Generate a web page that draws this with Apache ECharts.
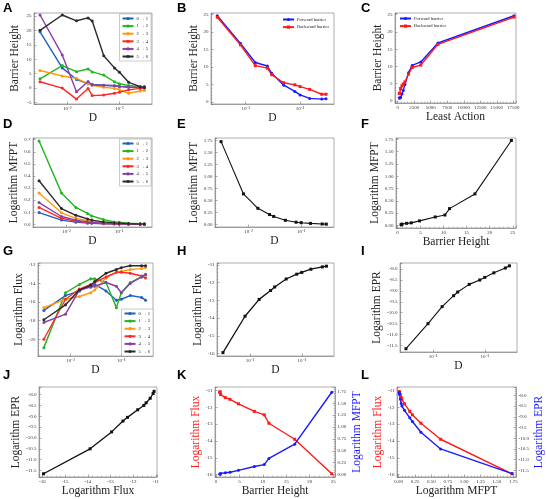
<!DOCTYPE html>
<html>
<head>
<meta charset="utf-8">
<script src="https://cdn.jsdelivr.net/npm/echarts@6/dist/echarts.min.js"></script>
<style>
html, body { margin: 0; padding: 0; background: #fff; }
#main { width: 546px; height: 499px; }
</style>
</head>
<body>
<div id="main"></div>
<script>
// diffusion coefficients (x of the D panels)
var dValues = [0.003, 0.008, 0.015, 0.025, 0.03, 0.05, 0.08, 0.1, 0.15, 0.25, 0.3];
var transitions = ['0 → 1', '1 → 2', '2 → 3', '3 → 4', '4 → 5', '5 → 6'];

// A: barrier height of each transition
var barrierByTransition = [
    [19.5, 7.0, 3.0, 1.5, 1.3, 1.0, 0.8, 0.6, 0.3, 0.2, 0.6],
    [3.2, 7.8, 5.7, 6.6, 5.6, 4.5, 2.2, 1.5, 0.9, 0.5, 0.2],
    [6.1, 4.2, 3.4, 1.5, 1.0, 0.3, -0.1, -0.5, -1.8, -1.0, -0.8],
    [2.2, 0.0, -3.8, -0.1, -2.6, -2.4, -1.8, -1.4, -0.6, -0.1, 0.0],
    [25.3, 11.5, -1.3, 2.3, 1.1, 1.0, 0.8, 0.6, 0.4, 0.3, 0.2],
    [20.0, 25.3, 23.3, 24.3, 23.2, 11.2, 7.0, 5.5, 2.0, 0.5, 0.2]
];
// D: logarithm MFPT of each transition
var mfptByTransition = [
    [0.097, 0.035, 0.018, 0.01, 0.008, 0.005, 0.003, 0.002, 0.001, 0.001, 0.0],
    [0.69, 0.26, 0.14, 0.09, 0.07, 0.04, 0.02, 0.017, 0.01, 0.005, 0.004],
    [0.26, 0.095, 0.05, 0.03, 0.025, 0.012, 0.008, 0.006, 0.004, 0.002, 0.002],
    [0.14, 0.05, 0.027, 0.015, 0.012, 0.007, 0.004, 0.003, 0.002, 0.001, 0.001],
    [0.18, 0.065, 0.035, 0.02, 0.016, 0.01, 0.006, 0.005, 0.003, 0.002, 0.001],
    [0.36, 0.13, 0.075, 0.045, 0.035, 0.02, 0.012, 0.01, 0.006, 0.003, 0.002]
];
// G: logarithm flux of each transition
var fluxByTransition = [
    [-16.9, -15.3, -14.8, -14.2, -14.1, -14.8, -15.8, -15.7, -15.3, -15.5, -15.8],
    [-20.9, -15.0, -14.1, -13.5, -13.5, -13.9, -16.6, -15.0, -13.9, -13.3, -13.1],
    [-16.6, -15.7, -15.4, -15.0, -14.7, -13.4, -12.8, -12.7, -12.5, -12.4, -12.3],
    [-20.0, -15.7, -14.6, -14.1, -13.9, -13.3, -12.8, -12.8, -12.9, -13.2, -13.4],
    [-18.2, -17.3, -14.7, -14.4, -14.3, -13.9, -14.3, -15.0, -14.0, -13.3, -13.0],
    [-17.9, -16.3, -14.7, -14.2, -13.8, -12.9, -12.5, -12.3, -12.1, -12.1, -12.1]
];
var forwardBarrier = [24.7, 16.8, 11.3, 10.3, 8.2, 4.8, 3.0, 2.0, 1.0, 0.8, 0.9];
var backwardBarrier = [24.3, 16.4, 10.4, 9.7, 7.8, 5.5, 4.9, 4.4, 3.6, 2.2, 2.2];
var leastAction = [17600, 6100, 3500, 2200, 1650, 1100, 850, 650, 450, 300, 250];
var totalMfpt = [1.73, 0.64, 0.34, 0.21, 0.17, 0.09, 0.05, 0.04, 0.025, 0.013, 0.01];
var totalFlux = [-15.95, -13.9, -12.95, -12.45, -12.25, -11.8, -11.53, -11.43, -11.25, -11.12, -11.08];
var totalEpr = [-11.65, -10.5, -9.72, -9.22, -9.05, -8.7, -8.5, -8.38, -8.17, -7.95, -7.85];

var panelLetters = ['A', 'B', 'C', 'D', 'E', 'F', 'G', 'H', 'I', 'J', 'K', 'L'];

(function () {
    var myChart = echarts.init(document.getElementById('main'));
    var FONT = 'Liberation Serif';
    var transColors = ['#1f5fc0', '#22b422', '#ff9a10', '#ff2626', '#8a3fa8', '#2a2a2a'];
    var RED = '#ff1a1a', BLUE = '#1a1aff';

    var boxes = [
        [34, 13, 118, 91], [211, 13, 123, 91], [395, 13, 121, 90],
        [33, 138, 119, 89], [215, 138, 119, 89], [396, 138, 120, 90],
        [38, 263, 115, 93], [217, 263, 117, 93], [400, 263, 117, 89],
        [39, 387, 118, 90], [215, 387, 120, 90], [397, 387, 119, 90]
    ];
    var letterPos = [[3, 2], [177, 2], [361, 2], [3, 118], [177, 118], [361, 118],
        [3, 245], [177, 245], [361, 245], [3, 369], [177, 369], [361, 369]];

    function pairs(xs, ys) {
        return xs.map(function (x, i) { return [x, ys[i]]; });
    }
    var sup = { '-': '⁻', '0': '⁰', '1': '¹', '2': '²', '3': '³' };
    function powerLabel(v) {
        var l = Math.log10(v), e = Math.round(l);
        if (Math.abs(l - e) > 1e-6) return '';
        return '10' + String(e).split('').map(function (c) { return sup[c] || c; }).join('');
    }
    function nameStyle(color) {
        return { fontSize: 11.5, fontFamily: FONT, color: color || '#222' };
    }
    function common(gi, name, gap, color) {
        return {
            gridIndex: gi,
            name: name,
            nameLocation: 'middle',
            nameGap: gap,
            nameTextStyle: nameStyle(color),
            axisLine: { show: true, onZero: false, lineStyle: { color: '#777', width: 0.6 } },
            axisTick: { inside: true, length: 2.5, lineStyle: { color: '#777', width: 0.6 } },
            splitLine: { show: false },
            axisLabel: { fontSize: 5, fontFamily: FONT, color: '#333', margin: 2.5,
                showMinLabel: false, showMaxLabel: false }
        };
    }
    function logAxis(gi) {
        var a = common(gi, 'D', 5);
        a.type = 'log';
        a.logBase = 10;
        a.min = 0.0023;
        a.max = 0.42;
        a.axisLabel.formatter = powerLabel;
        return a;
    }
    function valAxis(gi, min, max, step, digits, name, gap, color, pos) {
        var a = common(gi, name, gap, color);
        a.type = 'value';
        a.min = min;
        a.max = max;
        a.minInterval = step;
        a.maxInterval = step;
        a.scale = true;
        a.axisLabel.formatter = function (v) { return v.toFixed(digits); };
        a.minorTick = { show: true, splitNumber: 5, length: 1.3, lineStyle: { color: '#888', width: 0.5 } };
        if (pos) a.position = pos;
        return a;
    }

    var xAxis = [
        logAxis(0), logAxis(1),
        valAxis(2, -400, 17900, 2500, 0, 'Least Action', 5),
        logAxis(3), logAxis(4),
        valAxis(5, -0.3, 25.7, 5, 0, 'Barrier Height', 6),
        logAxis(6), logAxis(7), logAxis(8),
        valAxis(9, -16.15, -10.95, 1, 0, 'Logarithm Flux', 5),
        valAxis(10, -0.2, 25.4, 5, 0, 'Barrier Height', 5),
        valAxis(11, -0.025, 1.79, 0.25, 2, 'Logarithm MFPT', 5)
    ];
    var yAxis = [
        valAxis(0, -5.5, 26, 5, 0, 'Barrier Height', 13),
        valAxis(1, -0.6, 25.5, 5, 0, 'Barrier Height', 7),
        valAxis(2, -0.6, 25.5, 5, 0, 'Barrier Height', 10),
        valAxis(3, -0.022, 0.714, 0.1, 1, 'Logarithm MFPT', 9),
        valAxis(4, -0.05, 1.806, 0.25, 2, 'Logarithm MFPT', 9),
        valAxis(5, -0.055, 1.78, 0.25, 2, 'Logarithm MFPT', 11),
        valAxis(6, -21.8, -11.8, 2, 0, 'Logarithm Flux', 12),
        valAxis(7, -16.14, -10.9, 1, 0, 'Logarithm Flux', 11),
        valAxis(8, -11.8, -7.72, 0.5, 1, 'Logarithm EPR', 13),
        valAxis(9, -11.8, -7.65, 0.5, 1, 'Logarithm EPR', 14),
        valAxis(10, -16.14, -10.8, 1, 0, 'Logarithm Flux', 11, RED),
        valAxis(11, -16.14, -10.8, 1, 0, 'Logarithm Flux', 10, RED),
        valAxis(10, -0.05, 1.84, 0.25, 2, 'Logarithm MFPT', 16, BLUE, 'right'),
        valAxis(11, -11.81, -7.61, 0.5, 1, 'Logarithm EPR', 16, BLUE, 'right')
    ];
    yAxis[12].nameRotate = 90;
    yAxis[13].nameRotate = 90;

    var grid = boxes.map(function (b) {
        return { left: b[0], top: b[1], width: b[2], height: b[3], show: true,
            borderColor: '#777', borderWidth: 0.6, backgroundColor: '#fff' };
    });

    var title = panelLetters.map(function (t, i) {
        return { text: t, left: letterPos[i][0], top: letterPos[i][1], padding: 0,
            textStyle: { fontSize: 13, fontWeight: 'bold', fontFamily: 'Liberation Sans', color: '#000' } };
    });

    function line(name, gi, yi, data, color, symbol, width) {
        return {
            name: name, type: 'line', xAxisIndex: gi, yAxisIndex: yi, data: data,
            symbol: symbol || 'circle', symbolSize: 3, showSymbol: true,
            lineStyle: { color: color, width: width || 1.4 },
            itemStyle: { color: color },
            emphasis: { disabled: true }
        };
    }

    var series = [];
    transitions.forEach(function (t, i) {
        series.push(line(t, 0, 0, pairs(dValues, barrierByTransition[i]), transColors[i]));
        series.push(line(t, 3, 3, pairs(dValues, mfptByTransition[i]), transColors[i]));
        series.push(line(t, 6, 6, pairs(dValues, fluxByTransition[i]), transColors[i]));
    });
    series.push(line('Forward barrier', 1, 1, pairs(dValues, forwardBarrier), BLUE, 'circle'));
    series.push(line('Backward barrier', 1, 1, pairs(dValues, backwardBarrier), RED, 'rect'));
    series.push(line('Forward barrier', 2, 2, pairs(leastAction, forwardBarrier), BLUE, 'circle'));
    series.push(line('Backward barrier', 2, 2, pairs(leastAction, backwardBarrier), RED, 'rect'));
    series.push(line('MFPT', 4, 4, pairs(dValues, totalMfpt), '#111', 'rect', 1.1));
    series.push(line('MFPT vs barrier', 5, 5, pairs(forwardBarrier, totalMfpt), '#111', 'rect', 1.1));
    series.push(line('Flux', 7, 7, pairs(dValues, totalFlux), '#111', 'rect', 1.3));
    series.push(line('EPR', 8, 8, pairs(dValues, totalEpr), '#111', 'rect', 1.1));
    series.push(line('EPR vs flux', 9, 9, pairs(totalFlux, totalEpr), '#111', 'rect', 1.3));
    series.push(line('K flux', 10, 10, pairs(forwardBarrier, totalFlux), RED, 'rect'));
    series.push(line('K mfpt', 10, 12, pairs(forwardBarrier, totalMfpt), BLUE, 'circle'));
    series.push(line('L flux', 11, 11, pairs(totalMfpt, totalFlux), RED, 'rect'));
    series.push(line('L epr', 11, 13, pairs(totalMfpt, totalEpr), BLUE, 'circle'));

    function legendBox(data, pos) {
        var l = {
            data: data, orient: 'vertical', itemWidth: 11, itemHeight: 4, itemGap: 2.6,
            padding: [2, 3, 2, 2], borderColor: '#999', borderWidth: 0.5, backgroundColor: '#fff',
            textStyle: { fontSize: 4.6, fontFamily: FONT, color: '#222', padding: [0, 0, 0, -2] },
            selectedMode: false
        };
        for (var k in pos) l[k] = pos[k];
        return l;
    }
    var legend = [
        legendBox(transitions, { right: 395, top: 14 }),
        legendBox(transitions, { right: 395, top: 139 }),
        legendBox(transitions, { right: 393, top: 309 }),
        legendBox(['Forward barrier', 'Backward barrier'], { right: 214, top: 15, borderWidth: 0 }),
        legendBox(['Forward barrier', 'Backward barrier'], { left: 397, top: 14, borderWidth: 0 })
    ];

    option = {
        animation: false,
        backgroundColor: '#fff',
        title: title,
        grid: grid,
        xAxis: xAxis,
        yAxis: yAxis,
        legend: legend,
        series: series
    };

    myChart.setOption(option);
    window.addEventListener('resize', function () {
        myChart.resize();
    });
})();
</script>
</body>
</html>
